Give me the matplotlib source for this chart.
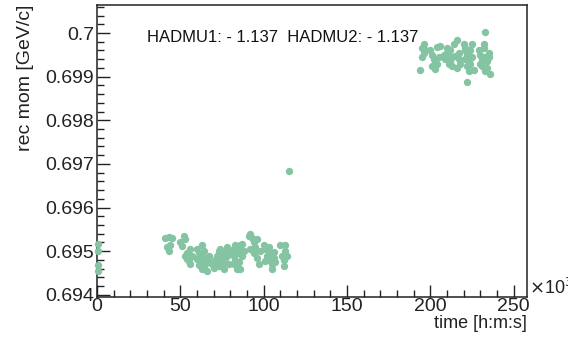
import matplotlib
matplotlib.use("Agg")
import matplotlib.pyplot as plt
from matplotlib.ticker import MultipleLocator

plt.rcParams['font.family'] = ['Liberation Sans', 'DejaVu Sans']

# time in units of 10^3 s, reconstructed momentum in GeV/c
time_low = [0.5, 0.5, 0.8, 0.5,
            41, 43, 45, 42, 43, 44,
            50, 52, 53, 51, 54, 53, 55, 56, 54, 57, 56,
            60, 61, 60, 62, 61, 63, 62, 64, 63, 65, 65, 66, 64, 67, 67,
            69, 70, 71, 72, 72, 73, 73, 74, 74, 75, 75, 76, 76, 77, 77, 78, 78, 79, 80,
            81, 82, 82, 83, 83, 84, 84, 85, 85, 86, 86, 87, 87, 88,
            91, 92, 93, 94, 92, 95, 94, 96, 97, 96, 98,
            100, 101, 102, 101, 103, 104, 104, 105, 106, 105, 106, 107,
            110, 111, 112, 112, 113, 114, 113,
            115]
mom_low = [0.69517, 0.69500, 0.69468, 0.69455,
           0.69530, 0.69532, 0.69530, 0.69510, 0.69500, 0.69515,
           0.69520, 0.69535, 0.69528, 0.69512, 0.69495, 0.69488, 0.69478, 0.69470, 0.69482, 0.69490, 0.69505,
           0.69505, 0.69495, 0.69482, 0.69478, 0.69468, 0.69460, 0.69490, 0.69500, 0.69515, 0.69485, 0.69470,
           0.69455, 0.69458, 0.69475, 0.69490,
           0.69470, 0.69462, 0.69480, 0.69475, 0.69490, 0.69500, 0.69465, 0.69478, 0.69505, 0.69492, 0.69470,
           0.69482, 0.69460, 0.69498, 0.69475, 0.69488, 0.69510, 0.69470, 0.69495,
           0.69502, 0.69488, 0.69470, 0.69515, 0.69480, 0.69460, 0.69495, 0.69505, 0.69475, 0.69515, 0.69458,
           0.69490, 0.69517, 0.69500,
           0.69535, 0.69540, 0.69530, 0.69520, 0.69505, 0.69510, 0.69495, 0.69485, 0.69470, 0.69528, 0.69500,
           0.69515, 0.69505, 0.69490, 0.69478, 0.69510, 0.69495, 0.69480, 0.69470, 0.69498, 0.69460, 0.69485,
           0.69475,
           0.69515, 0.69490, 0.69480, 0.69465, 0.69500, 0.69488, 0.69515,
           0.69683]
time_high = [196, 195, 196, 195, 194, 197,
             200, 201, 202, 203, 201, 204, 203, 205, 204, 206,
             208, 209, 210, 211, 212, 213, 212, 214, 215, 211, 210, 213,
             216, 217, 217, 218, 216,
             220, 221, 222, 221, 223, 222, 224, 225, 224, 226, 223, 225, 222, 221,
             229, 230, 231, 230, 232, 233, 232, 233, 234, 235, 234, 236, 233, 231, 235]
mom_high = [0.69975, 0.69965, 0.69955, 0.69945, 0.69915, 0.69960,
            0.69962, 0.69950, 0.69940, 0.69935, 0.69925, 0.69930, 0.69918, 0.69945, 0.69968, 0.69970,
            0.69950, 0.69940, 0.69955, 0.69945, 0.69935, 0.69925, 0.69960, 0.69975, 0.69948, 0.69930,
            0.69965, 0.69945,
            0.69985, 0.69955, 0.69940, 0.69930, 0.69920,
            0.69975, 0.69965, 0.69950, 0.69940, 0.69935, 0.69925, 0.69960, 0.69945, 0.69930, 0.69915,
            0.69912, 0.69975, 0.69887, 0.69960,
            0.69960, 0.69950, 0.69940, 0.69930, 0.69975, 0.70003, 0.69965, 0.69945, 0.69935, 0.69955,
            0.69920, 0.69905, 0.69912, 0.69925, 0.69945]

fig = plt.figure(figsize=(5.68, 3.39), dpi=100)
ax = fig.add_axes([0.171, 0.124, 0.757, 0.861])
col = '#84c4a2'
ax.scatter(time_low, mom_low, s=28, color=col, linewidths=0, clip_on=False, zorder=3)
ax.scatter(time_high, mom_high, s=28, color=col, linewidths=0, zorder=3)

ax.set_xlim(0, 258)
ax.set_ylim(0.69395, 0.70064)
ax.xaxis.set_major_locator(MultipleLocator(50))
ax.xaxis.set_minor_locator(MultipleLocator(10))
ax.yaxis.set_major_locator(MultipleLocator(0.001))
ax.yaxis.set_minor_locator(MultipleLocator(0.0002))
ax.yaxis.set_major_formatter(matplotlib.ticker.FuncFormatter(lambda v, p: ('%.3f' % v).rstrip('0')))
ax.tick_params(which='both', direction='in', labelsize=14, width=1, color='#222222',
               labelcolor='#222222', pad=2)
ax.tick_params(which='major', length=9)
ax.tick_params(which='minor', length=5)
ax.tick_params(axis='x', pad=1)
for s in ax.spines.values():
    s.set_linewidth(1.1)
    s.set_color('#222222')

ax.set_ylabel('rec mom [GeV/c]', fontsize=14, y=1.0, ha='right', labelpad=8, color='#222222')
ax.set_xlabel('time [h:m:s]', fontsize=13, x=1.0, ha='right', labelpad=0, color='#222222')
ax.text(1.005, 0.03, r'$\times$10$^{3}$', transform=ax.transAxes, fontsize=13, va='center',
        ha='left', color='#222222')
ax.text(0.117, 0.89, 'HADMU1: - 1.137  HADMU2: - 1.137', transform=ax.transAxes,
        fontsize=12, va='center', ha='left', color='#111111')

fig.savefig('out.png', dpi=100)
